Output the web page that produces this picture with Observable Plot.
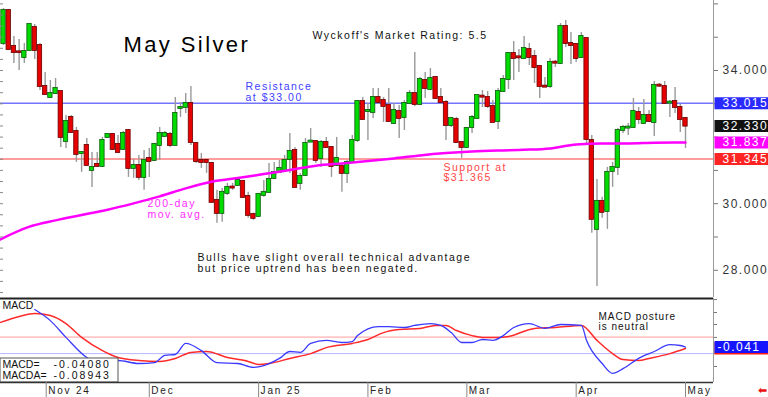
<!DOCTYPE html>
<html><head><meta charset="utf-8">
<script src="https://cdn.jsdelivr.net/npm/d3@7"></script>
<script src="https://cdn.jsdelivr.net/npm/@observablehq/plot@0.6"></script>
<style>
html,body{margin:0;padding:0;background:#fff;}
#chart{width:768px;height:397px;position:relative;overflow:hidden;background:#fff;}
#chart svg{display:block;}
g[aria-description="title"] text{letter-spacing:2.4px;}
g[aria-description="note"] text{letter-spacing:1.5px;}
g[aria-description="note2"] text{letter-spacing:1px;}
g[aria-description="price-label"] text{letter-spacing:1.5px;}
g[aria-description="num"] text{letter-spacing:2px;}
g[aria-description="month"] text{letter-spacing:1.8px;}
</style></head>
<body><div id="chart"></div>
<script>
// ---------- data ----------
const open = [
34.81,35.80,34.72,34.56,34.39,34.60,35.29,34.75,33.52,33.19,
33.31,33.37,31.87,32.59,32.17,31.51,31.75,31.00,31.18,31.12,
31.99,32.08,31.78,31.63,32.20,31.06,31.15,30.79,31.36,31.30,
31.75,32.02,32.08,31.75,32.86,32.89,33.01,31.81,31.30,31.30,
31.21,30.10,29.71,30.31,30.50,30.55,30.67,30.22,29.68,29.62,
30.25,30.34,30.76,30.94,31.00,31.33,31.60,30.61,30.85,31.85,
31.87,31.36,31.84,31.69,31.15,31.12,30.91,31.24,31.90,33.07,
32.77,32.74,33.19,33.10,32.95,32.41,32.77,32.59,33.01,33.31,
32.98,33.70,33.43,33.79,33.19,33.04,32.35,32.53,31.84,31.69,
32.29,32.56,33.23,33.19,32.92,32.47,33.37,33.73,34.51,34.41,
34.36,34.63,34.42,34.12,33.53,33.52,34.25,34.21,35.32,34.81,
34.78,34.39,34.96,31.90,29.23,30.07,29.77,30.97,31.09,32.20,
32.27,32.29,32.74,32.41,32.65,32.44,33.56,33.52,33.02,33.07,
32.89,32.56];
const high = [
35.86,35.82,35.02,34.93,34.81,35.38,35.38,34.81,33.94,33.70,
33.76,33.37,32.65,32.65,32.29,31.54,31.96,31.54,31.54,31.99,
32.08,32.11,32.05,32.17,32.20,31.33,31.45,31.60,31.66,31.81,
32.29,32.17,32.14,33.19,33.04,33.31,33.52,31.84,31.51,31.33,
31.24,30.40,30.46,30.61,30.61,30.76,30.70,30.34,29.71,30.31,
30.70,31.21,31.24,31.30,31.45,32.11,31.69,30.91,31.96,32.26,
31.90,31.90,31.99,31.69,31.99,31.21,31.30,32.05,33.10,33.19,
33.01,33.46,33.46,33.19,33.46,33.01,32.95,33.10,33.40,34.54,
33.79,33.94,34.06,33.79,33.46,33.10,32.59,32.59,31.87,32.29,
32.65,33.25,33.40,33.37,33.10,33.46,33.85,34.54,34.87,34.63,
35.02,34.81,34.60,34.15,33.79,34.36,34.30,35.41,35.50,35.14,
34.81,35.14,34.96,32.05,30.73,30.19,31.09,31.24,32.26,32.35,
32.41,33.16,32.89,33.13,32.80,33.67,33.61,33.67,33.10,33.49,
32.98,32.59];
const low = [
34.75,34.60,34.21,34.00,34.21,34.60,34.33,33.40,33.25,33.16,
33.28,31.69,31.66,32.11,31.24,30.94,31.12,30.49,31.09,31.09,
31.99,31.60,31.51,31.63,30.79,30.76,30.70,30.40,30.79,31.27,
31.30,31.99,31.69,31.75,32.59,32.71,31.75,31.21,31.06,30.91,
30.01,29.41,29.44,30.25,30.40,30.52,30.16,29.56,29.50,29.59,
30.19,30.31,30.73,30.91,30.97,30.91,30.49,30.40,30.82,31.84,
31.21,31.09,31.66,30.79,31.12,30.34,30.61,31.21,31.84,32.50,
31.90,32.56,32.98,32.44,32.44,32.38,31.96,32.20,32.98,32.92,
32.95,33.16,33.40,33.13,32.98,31.90,32.29,31.81,31.36,31.66,
32.11,32.53,32.89,32.86,32.44,32.23,33.34,33.43,33.70,33.94,
34.33,34.15,33.61,33.16,33.49,33.46,34.09,34.18,34.69,34.18,
34.24,34.36,31.75,29.11,27.51,29.56,29.23,30.49,30.85,32.11,
32.05,32.29,32.38,32.38,32.44,32.02,33.49,32.98,32.59,32.71,
32.14,31.66];
const close = [
35.80,34.63,34.54,34.54,34.57,35.38,34.60,33.52,33.28,33.31,
33.46,31.99,32.47,32.14,31.48,31.54,31.15,31.09,31.12,31.90,
32.08,31.63,31.54,32.11,31.06,31.15,30.79,31.30,31.27,31.78,
32.11,32.11,31.75,32.71,32.89,33.01,31.84,31.27,31.24,31.24,
30.04,29.71,30.34,30.49,30.47,30.70,30.19,29.65,29.56,30.28,
30.34,30.73,30.94,31.06,31.30,31.57,30.49,30.82,31.81,31.88,
31.30,31.84,31.69,31.12,31.36,30.91,31.24,31.90,33.07,32.53,
32.80,33.19,33.04,32.92,32.47,32.80,32.56,33.01,33.31,32.98,
33.73,33.46,33.76,33.16,33.04,32.35,32.56,31.84,31.69,32.26,
32.59,33.25,33.20,32.92,32.44,33.37,33.73,34.51,34.36,34.38,
34.66,34.39,34.09,33.52,33.50,34.24,34.22,35.32,34.81,34.75,
34.36,35.02,31.93,29.53,30.07,29.74,30.94,31.09,32.20,32.29,
32.30,32.77,32.53,32.65,32.47,33.55,33.53,33.01,33.05,32.89,
32.53,32.33];

// 200-day moving average, read at candle indices
const maIndex = [-0.58,5,10,15,20,25,30,35,40,45,50,55,60,65,70,75,80,85,90,95,100,105,110,115,120,125,131];
const maValue = [28.93,29.31,29.50,29.66,29.82,30.01,30.22,30.46,30.66,30.77,30.89,31.01,31.14,31.21,31.28,31.36,31.45,31.52,31.57,31.60,31.62,31.66,31.78,31.81,31.81,31.83,31.837];

// MACD (blue) and MACDA (red) read at candle indices
const macdIndex = [6,9,12,16,19,22,26,29,31,33,35,38,41,45,48,50,53,55,57,59,62,65,67,68,72,74,77,79,82,84,86,88,90,92,94,96,98,101,104,107,111,112,115,117,119,122,125,128,130,131];
const macdValue = [1.21,0.84,0.28,-0.39,-0.59,-0.49,-0.59,-0.56,-0.32,-0.29,0.08,-0.16,-0.56,-0.59,-0.72,-0.66,-0.42,-0.19,-0.22,0.08,0.18,0.11,0.14,0.34,0.64,0.64,0.61,0.68,0.74,0.68,0.44,0.11,0.11,0.21,0.18,0.34,0.61,0.74,0.58,0.71,0.68,0.18,-0.59,-0.92,-0.76,-0.42,-0.19,0.04,0.01,-0.041];
const signalIndex = [-0.58,3,6,9,12,15,19,22,26,30,33,36,39,43,47,49,51,55,59,62,67,70,73,76,80,83,85,87,90,92,95,97,102,106,111,114,117,119,122,124,128,131];
const signalValue = [0.78,0.98,1.08,1.01,0.74,0.28,-0.16,-0.39,-0.49,-0.52,-0.42,-0.22,-0.19,-0.39,-0.52,-0.62,-0.59,-0.42,-0.26,-0.06,0.08,0.21,0.44,0.54,0.58,0.68,0.68,0.51,0.34,0.28,0.28,0.31,0.58,0.61,0.68,0.18,-0.26,-0.46,-0.49,-0.42,-0.26,-0.089];

const monthIndex = [8.2,28,49,70,89,110,131];
const monthLabels = ["Nov 24","Dec","Jan 25","Feb","Mar","Apr","May"];
const priceTicks = [28,29,30,31,32,33,34,35,36];
const priceLabels = [28,30,34];
const minorTicks = d3.range(82,109).map(d => d/3);
const macdTicks = [1.54,1.11,0.71,0.28,-0.26,-0.69];

const resistance = 33.015, support = 31.345, lastClose = 32.330, lastMA = 31.837;
const macdLast = -0.04080, signalLast = -0.08943;
const macdUpper = 0.29, macdLower = -0.26;

// ---------- layout ----------
const W = 768, mR = 55;
const xLo = -0.58, xHi = 136.38;
const k = (W - mR) / (xHi - xLo);
const xEnd = xHi + mR / k;
const xBox = xHi + 1.5 / k;
const yLo = 27.183, yHi = 36.102;
const mLo = -1.223, mHi = 1.577;
const FONT = "'Liberation Sans', Arial, sans-serif";

const candles = open.map((o, i) => ({i, o, h: high[i], l: low[i], c: close[i]}));
const ma = maIndex.map((x, j) => ({x, v: maValue[j]}));
const macd = macdIndex.map((x, j) => ({x, v: macdValue[j]}));
const signal = signalIndex.map((x, j) => ({x, v: signalValue[j]}));

const note = (txt, dx, dy, fill, extra = {}) =>
  Plot.text([txt], {text: d => d, frameAnchor: "top-left", dx, dy, lineAnchor: "top", textAnchor: "start",
    fontSize: 10.5, fill, lineHeight: 1.0, ariaDescription: "note", ...extra});

const boxes = [
  {v: support, t: support.toFixed(3), c: "#ff2424"},
  {v: lastMA, t: lastMA.toFixed(3), c: "#ff00ff"},
  {v: lastClose, t: lastClose.toFixed(3), c: "#111111"},
  {v: resistance, t: resistance.toFixed(3), c: "#2a2aff"}
];

const p1 = Plot.plot({
  width: W, height: 297, marginTop: 0, marginBottom: 0, marginLeft: 0, marginRight: mR,
  style: {fontFamily: FONT, background: "#fff"},
  x: {domain: [xLo, xHi], axis: null},
  y: {domain: [yLo, yHi]},
  marks: [
    Plot.ruleY([resistance], {stroke: "#7474ff", strokeWidth: 1.6}),
    Plot.ruleY([support], {stroke: "#ff9c9c", strokeWidth: 2}),
    Plot.ruleX(candles, {x: "i", y1: "l", y2: "h", stroke: "#999", strokeWidth: 1.4}),
    Plot.rect(candles, {x1: d => d.i - 0.42, x2: d => d.i + 0.42,
      y1: d => Math.min(d.o, d.c), y2: d => Math.max(d.o, d.c),
      fill: d => d.c >= d.o ? "#00dc00" : "#e60000",
      stroke: d => d.c >= d.o ? "#0a5a0a" : "#6a0000", strokeWidth: 0.8, insetTop: -0.5, insetBottom: -0.5}),
    Plot.line(ma, {x: "x", y: "v", stroke: "#ff00ff", strokeWidth: 2.5, curve: "monotone-x"}),
    Plot.ruleX([xHi], {stroke: "#9a9a9a", strokeWidth: 1}),
    Plot.axisY({anchor: "right", ticks: priceTicks, tickSize: 4, tickFormat: () => "", label: null, stroke: "#777"}),
    Plot.axisY({anchor: "left", ticks: minorTicks, tickSize: -3, tickFormat: () => "", label: null, stroke: "#888"}),
    Plot.text(priceLabels, {x: xHi, y: d => d, text: d => d.toFixed(3), textAnchor: "start", dx: 9,
      fill: "#333", fontSize: 12, ariaDescription: "price-label"}),
    ...boxes.map(b => Plot.ruleY([b.v], {x1: xBox, x2: xEnd, stroke: b.c, strokeWidth: 12})),
    ...boxes.map(b => Plot.text([b.t], {x: xHi, y: () => b.v, text: d => d, textAnchor: "start", dx: 9,
      fill: "#fff", fontSize: 12, ariaDescription: "price-label"})),
    Plot.text(["May Silver"], {text: d => d, frameAnchor: "top-left", dx: 123, dy: 36, lineAnchor: "top",
      textAnchor: "start", fontSize: 22, fill: "#000", ariaDescription: "title"}),
    note("Wyckoff's Market Rating: 5.5", 312, 31.5, "#111"),
    note("Resistance\nat $33.00", 245, 82.5, "#4040ff"),
    note("200-day\nmov. avg.", 147, 199.5, "#ff2cff"),
    note("Support at\n$31.365", 443, 163, "#ff4545"),
    note("Bulls have slight overall technical advantage\nbut price uptrend has been negated.", 197, 253.5, "#111")
  ]
});

const pv = absY => mHi - (absY - 298) / 84 * (mHi - mLo);

const p2 = Plot.plot({
  width: W, height: 100, marginTop: 1, marginBottom: 15, marginLeft: 0, marginRight: mR,
  style: {fontFamily: FONT, background: "#fff"},
  x: {domain: [xLo, xHi]},
  y: {domain: [mLo, mHi]},
  marks: [
    Plot.ruleY([macdUpper], {stroke: "#ffc6c6", strokeWidth: 1.6}),
    Plot.ruleY([macdLower], {stroke: "#b6b6ff", strokeWidth: 1}),
    Plot.line(signal, {x: "x", y: "v", stroke: "#ff2a2a", strokeWidth: 1.5, curve: "monotone-x"}),
    Plot.line(macd, {x: "x", y: "v", stroke: "#3a3aff", strokeWidth: 1.3, curve: "monotone-x"}),
    Plot.rect([0], {x1: xLo, x2: xLo + 118 / k, y1: pv(358), y2: mLo, fill: "#fff", stroke: "#555", strokeWidth: 1}),
    Plot.text(["MACD"], {text: d => d, frameAnchor: "top-left", dx: 2, dy: 3.5, lineAnchor: "top", textAnchor: "start", fontSize: 10.5, fill: "#111"}),
    Plot.text(["MACD="], {text: d => d, frameAnchor: "top-left", dx: 2, dy: 62, lineAnchor: "top", textAnchor: "start", fontSize: 10.5, fill: "#111"}),
    Plot.text(["MACDA="], {text: d => d, frameAnchor: "top-left", dx: 2, dy: 73.5, lineAnchor: "top", textAnchor: "start", fontSize: 10.5, fill: "#111"}),
    Plot.text([macdLast.toFixed(5)], {text: d => d, frameAnchor: "top-left", dx: 53, dy: 62, lineAnchor: "top", textAnchor: "start", fontSize: 10.5, fill: "#111", ariaDescription: "num"}),
    Plot.text([signalLast.toFixed(5)], {text: d => d, frameAnchor: "top-left", dx: 53, dy: 73.5, lineAnchor: "top", textAnchor: "start", fontSize: 10.5, fill: "#111", ariaDescription: "num"}),
    note("MACD posture\nis neutral", 598, 14, "#111", {fontSize: 10, lineHeight: 1.0, ariaDescription: "note2"}),
    Plot.ruleY([mHi], {stroke: "#222", strokeWidth: 2}),
    Plot.ruleY([mLo], {stroke: "#333", strokeWidth: 1.5}),
    Plot.ruleX([xHi], {stroke: "#9a9a9a", strokeWidth: 1}),
    Plot.axisY({anchor: "right", ticks: macdTicks, tickSize: 3, tickFormat: () => "", label: null, stroke: "#777"}),
    Plot.ruleY([signalLast], {x1: xBox, x2: xEnd, stroke: "#ff1a1a", strokeWidth: 12}),
    Plot.ruleY([macdLast], {x1: xBox, x2: xEnd, stroke: "#1414ff", strokeWidth: 12}),
    Plot.text([macdLast.toFixed(3)], {text: d => d, x: xHi, y: () => macdLast, textAnchor: "start", dx: 4,
      fill: "#fff", fontSize: 12, ariaDescription: "price-label"}),
    Plot.axisX({ticks: monthIndex, tickSize: 15, tickFormat: () => "", label: null, stroke: "#888"}),
    Plot.text(monthIndex, {x: d => d, text: (d, i) => monthLabels[i], frameAnchor: "bottom", dx: 2, dy: 4.5,
      lineAnchor: "top", textAnchor: "start", fontSize: 10, fill: "#222", ariaDescription: "month"}),
    Plot.text(["\u2B05"], {text: d => d, frameAnchor: "bottom-right", dx: 44, dy: 11, textAnchor: "start",
      fontSize: 11, fill: "#e81010"})
  ]
});

const root = document.getElementById("chart");
root.appendChild(p1);
root.appendChild(p2);
</script></body></html>
